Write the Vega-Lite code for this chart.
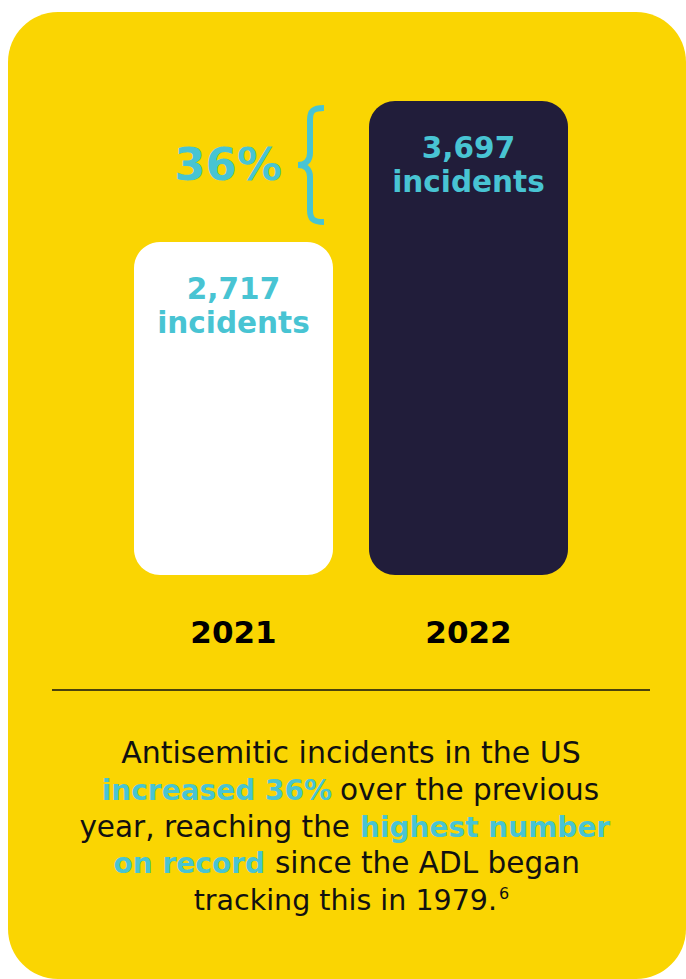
{
  "$schema": "https://vega.github.io/schema/vega-lite/v6.json",
  "width": 686,
  "height": 979,
  "autosize": {"type": "fit", "contains": "padding"},
  "padding": {"left": 8, "top": 12, "right": 0, "bottom": 0},
  "background": "#ffffff",
  "config": {"view": {"fill": "#FAD502", "stroke": null, "cornerRadius": 50}},
  "data": {"values": [
    {"year": "2021", "incidents": 2717},
    {"year": "2022", "incidents": 3697}
  ]},
  "resolve": {"scale": {"x": "independent", "y": "independent", "color": "independent"}},
  "layer": [
    {
      "mark": {"type": "bar", "cornerRadius": 26},
      "encoding": {
        "x": {"field": "year", "type": "nominal", "axis": null, "scale": {"type": "band", "range": [126, 560], "paddingInner": 0.1532, "paddingOuter": 0}},
        "y": {"field": "incidents", "type": "quantitative", "axis": null, "scale": {"domain": [-2405, 4315], "nice": false, "zero": false}},
        "y2": {"datum": 402},
        "color": {"field": "year", "type": "nominal", "legend": null, "scale": {"domain": ["2021", "2022"], "range": ["#ffffff", "#211D3A"]}}
      }
    },
    {
      "mark": {"type": "text", "font": "DejaVu Sans", "fontWeight": "bold", "fontSize": 29.5, "color": "#48C4D3", "baseline": "alphabetic", "dy": 57},
      "encoding": {
        "x": {"field": "year", "type": "nominal", "axis": null, "scale": {"type": "band", "range": [126, 560], "paddingInner": 0.1532, "paddingOuter": 0}},
        "y": {"field": "incidents", "type": "quantitative", "axis": null, "scale": {"domain": [-2405, 4315], "nice": false, "zero": false}},
        "text": {"field": "incidents", "type": "quantitative", "format": ",d"}
      }
    },
    {
      "mark": {"type": "text", "font": "DejaVu Sans", "fontWeight": "bold", "fontSize": 29.5, "color": "#48C4D3", "baseline": "alphabetic", "dy": 91, "text": "incidents"},
      "encoding": {
        "x": {"field": "year", "type": "nominal", "axis": null, "scale": {"type": "band", "range": [126, 560], "paddingInner": 0.1532, "paddingOuter": 0}},
        "y": {"field": "incidents", "type": "quantitative", "axis": null, "scale": {"domain": [-2405, 4315], "nice": false, "zero": false}}
      }
    },
    {
      "mark": {"type": "text", "font": "DejaVu Sans", "fontWeight": "bold", "fontSize": 31, "color": "#000000", "baseline": "alphabetic"},
      "encoding": {
        "x": {"field": "year", "type": "nominal", "axis": null, "scale": {"type": "band", "range": [126, 560], "paddingInner": 0.1532, "paddingOuter": 0}},
        "y": {"datum": 643, "axis": null, "scale": {"domain": [12, 979], "nice": false, "zero": false, "reverse": true}},
        "text": {"field": "year", "type": "nominal"}
      }
    },
    {
      "data": {"values": [{}]},
      "mark": {"type": "text", "font": "DejaVu Sans", "fontWeight": "bold", "fontSize": 45, "color": "#48C4D3", "align": "right", "baseline": "alphabetic", "text": "36%"},
      "encoding": {
        "x": {"datum": 282, "axis": null, "scale": {"domain": [8, 686], "nice": false, "zero": false}},
        "y": {"datum": 180, "axis": null, "scale": {"domain": [12, 979], "nice": false, "zero": false, "reverse": true}}
      }
    },
    {
      "data": {"values": [{}]},
      "mark": {"type": "point", "shape": "M 0.233 -0.95 C 0.05 -0.95 0 -0.9 0 -0.75 L 0 -0.2 C 0 -0.07 -0.08 0 -0.2 0 C -0.08 0 0 0.07 0 0.2 L 0 0.75 C 0 0.9 0.05 0.95 0.233 0.95", "size": 14400, "filled": false, "stroke": "#48C4D3", "strokeWidth": 6, "opacity": 1},
      "encoding": {
        "x": {"datum": 310, "axis": null, "scale": {"domain": [8, 686], "nice": false, "zero": false}},
        "y": {"datum": 165, "axis": null, "scale": {"domain": [12, 979], "nice": false, "zero": false, "reverse": true}}
      }
    },
    {
      "data": {"values": [{}]},
      "mark": {"type": "rule", "stroke": "#111111", "strokeWidth": 1.5},
      "encoding": {
        "x": {"datum": 52, "axis": null, "scale": {"domain": [8, 686], "nice": false, "zero": false}},
        "x2": {"datum": 650},
        "y": {"datum": 690, "axis": null, "scale": {"domain": [12, 979], "nice": false, "zero": false, "reverse": true}}
      }
    },
    {
      "data": {"values": [{}]},
      "mark": {"type": "text", "font": "DejaVu Sans", "fontSize": 30, "color": "#111111", "align": "center", "baseline": "alphabetic", "text": "Antisemitic incidents in the US"},
      "encoding": {
        "x": {"datum": 351, "axis": null, "scale": {"domain": [8, 686], "nice": false, "zero": false}},
        "y": {"datum": 763, "axis": null, "scale": {"domain": [12, 979], "nice": false, "zero": false, "reverse": true}}
      }
    },
    {
      "data": {"values": [{}]},
      "mark": {"type": "text", "font": "DejaVu Sans", "fontWeight": "bold", "fontSize": 28, "color": "#48C4D3", "align": "right", "baseline": "alphabetic", "text": "increased 36%"},
      "encoding": {
        "x": {"datum": 332, "axis": null, "scale": {"domain": [8, 686], "nice": false, "zero": false}},
        "y": {"datum": 800, "axis": null, "scale": {"domain": [12, 979], "nice": false, "zero": false, "reverse": true}}
      }
    },
    {
      "data": {"values": [{}]},
      "mark": {"type": "text", "font": "DejaVu Sans", "fontSize": 29.5, "color": "#111111", "align": "left", "baseline": "alphabetic", "text": "over the previous"},
      "encoding": {
        "x": {"datum": 340, "axis": null, "scale": {"domain": [8, 686], "nice": false, "zero": false}},
        "y": {"datum": 800, "axis": null, "scale": {"domain": [12, 979], "nice": false, "zero": false, "reverse": true}}
      }
    },
    {
      "data": {"values": [{}]},
      "mark": {"type": "text", "font": "DejaVu Sans", "fontSize": 29.5, "color": "#111111", "align": "right", "baseline": "alphabetic", "text": "year, reaching the"},
      "encoding": {
        "x": {"datum": 350, "axis": null, "scale": {"domain": [8, 686], "nice": false, "zero": false}},
        "y": {"datum": 837, "axis": null, "scale": {"domain": [12, 979], "nice": false, "zero": false, "reverse": true}}
      }
    },
    {
      "data": {"values": [{}]},
      "mark": {"type": "text", "font": "DejaVu Sans", "fontWeight": "bold", "fontSize": 28, "color": "#48C4D3", "align": "left", "baseline": "alphabetic", "text": "highest number"},
      "encoding": {
        "x": {"datum": 360, "axis": null, "scale": {"domain": [8, 686], "nice": false, "zero": false}},
        "y": {"datum": 837, "axis": null, "scale": {"domain": [12, 979], "nice": false, "zero": false, "reverse": true}}
      }
    },
    {
      "data": {"values": [{}]},
      "mark": {"type": "text", "font": "DejaVu Sans", "fontWeight": "bold", "fontSize": 28, "color": "#48C4D3", "align": "right", "baseline": "alphabetic", "text": "on record"},
      "encoding": {
        "x": {"datum": 265, "axis": null, "scale": {"domain": [8, 686], "nice": false, "zero": false}},
        "y": {"datum": 873, "axis": null, "scale": {"domain": [12, 979], "nice": false, "zero": false, "reverse": true}}
      }
    },
    {
      "data": {"values": [{}]},
      "mark": {"type": "text", "font": "DejaVu Sans", "fontSize": 29.5, "color": "#111111", "align": "left", "baseline": "alphabetic", "text": "since the ADL began"},
      "encoding": {
        "x": {"datum": 275, "axis": null, "scale": {"domain": [8, 686], "nice": false, "zero": false}},
        "y": {"datum": 873, "axis": null, "scale": {"domain": [12, 979], "nice": false, "zero": false, "reverse": true}}
      }
    },
    {
      "data": {"values": [{}]},
      "mark": {"type": "text", "font": "DejaVu Sans", "fontSize": 28.5, "color": "#111111", "align": "right", "baseline": "alphabetic", "text": "tracking this in 1979."},
      "encoding": {
        "x": {"datum": 497, "axis": null, "scale": {"domain": [8, 686], "nice": false, "zero": false}},
        "y": {"datum": 910, "axis": null, "scale": {"domain": [12, 979], "nice": false, "zero": false, "reverse": true}}
      }
    },
    {
      "data": {"values": [{}]},
      "mark": {"type": "text", "font": "DejaVu Sans", "fontSize": 16, "color": "#111111", "align": "left", "baseline": "alphabetic", "text": "6"},
      "encoding": {
        "x": {"datum": 499, "axis": null, "scale": {"domain": [8, 686], "nice": false, "zero": false}},
        "y": {"datum": 899, "axis": null, "scale": {"domain": [12, 979], "nice": false, "zero": false, "reverse": true}}
      }
    }
  ]
}
